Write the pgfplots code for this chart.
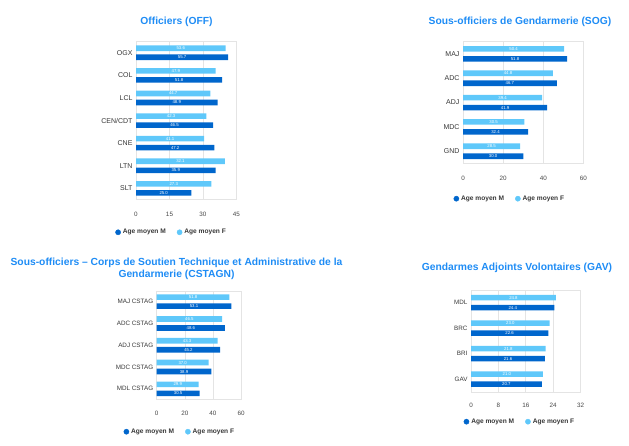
\documentclass[border=0pt]{standalone}
\usepackage{pgfplots}
\pgfplotsset{compat=1.18}
\usepackage{fontspec}
\setmainfont{Liberation Sans}
\definecolor{cM}{RGB}{0,102,204}
\definecolor{cF}{RGB}{95,200,250}
\definecolor{cT}{RGB}{30,140,245}
\definecolor{cG}{RGB}{228,228,228}
\definecolor{cL}{RGB}{55,55,55}
\definecolor{cX}{RGB}{70,70,70}

\pgfplotsset{
  hb/.style={
    scale only axis, xbar, xmin=0,
    /pgf/number format/assume math mode=true,
    axis line style={cG, line width=0.6pt},
    xmajorgrids, grid style={cG, line width=0.6pt},
    major tick length=0pt,
    bar width=5.6pt,
    point meta=explicit symbolic,
    nodes near coords,
    visualization depends on={value \thisrow{x} \as \bx},
    every node near coord/.append style={font=\fontsize{4.3}{5}\selectfont, color=white, anchor=center, inner sep=0pt},
    yticklabel style={font=\fontsize{7}{8}\selectfont, color=cL},
    xticklabel style={font=\fontsize{6.3}{7}\selectfont, color=cX, yshift=-8pt},
    legend columns=2,
    legend style={draw=none, fill=none, font=\bfseries\fontsize{6.6}{8}\selectfont, text=cL,
      inner xsep=0pt, inner ysep=0pt, anchor=west,
      /tikz/every even column/.append style={column sep=9pt}},
  },
  lab/.style={every node near coord/.append style={xshift={-0.5*\bx*#1}}},
  legM/.style={legend image code/.code={\fill[cM] (0pt,0pt) circle (2.6pt);}},
  legF/.style={legend image code/.code={\fill[cF] (0pt,0pt) circle (2.6pt);}},
}

\begin{document}
\begin{tikzpicture}
\path[use as bounding box] (0,0) rectangle (629pt,445pt);

% ---------- Officiers (OFF)
\node[font=\bfseries\fontsize{10.3}{12}\selectfont, text=cT] at (176.5pt,423.3pt) {Officiers (OFF)};
\begin{axis}[hb, at={(136pt,245.3pt)}, anchor=south west,
  width=100.5pt, height=158.2pt, xmax=45, ymin=-0.5, ymax=6.5,
  xtick={0,15,30,45}, ytick={0,...,6},
  xticklabel style={yshift=-1pt},
  yticklabels={SLT,LTN,CNE,CEN/CDT,LCL,COL,OGX},
  legend style={at={(-0.208,-0.206)}}]
\addplot[forget plot, fill=cF, draw=none, bar shift=4.5pt, lab=2.2333pt] table[x=x, y=y, meta=lab] {
y x lab
6 40.1 53.6
5 35.7 47.9
4 33.3 44.7
3 31.5 42.3
2 30.5 41.1
1 39.8 32.1
0 33.8 27.3
};
\addplot[forget plot, fill=cM, draw=none, bar shift=-4.5pt, lab=2.2333pt] table[x=x, y=y, meta=lab] {
y x lab
6 41.3 55.7
5 38.6 51.8
4 36.5 48.9
3 34.5 46.5
2 35.1 47.2
1 35.6 35.9
0 24.8 25.0
};
\addlegendimage{legM}\addlegendentry{Age moyen M}
\addlegendimage{legF}\addlegendentry{Age moyen F}
\end{axis}

% ---------- SOG
\node[font=\bfseries\fontsize{10.3}{12}\selectfont, text=cT] at (520pt,423.3pt) {Sous-officiers de Gendarmerie (SOG)};
\begin{axis}[hb, at={(463pt,281.6pt)}, anchor=south west,
  width=120.5pt, height=121.7pt, xmax=60, ymin=-0.5, ymax=4.5,
  xtick={0,20,40,60}, ytick={0,...,4},
  xticklabel style={yshift=-1pt},
  yticklabels={GND,MDC,ADJ,ADC,MAJ},
  legend style={at={(-0.08,-0.29)}}]
\addplot[forget plot, fill=cF, draw=none, bar shift=5pt, lab=2.0083pt] table[x=x, y=y, meta=lab] {
y x lab
4 50.4 50.4
3 44.8 44.8
2 39.4 39.4
1 30.5 30.5
0 28.5 28.5
};
\addplot[forget plot, fill=cM, draw=none, bar shift=-5pt, lab=2.0083pt] table[x=x, y=y, meta=lab] {
y x lab
4 51.8 51.8
3 46.7 46.7
2 41.9 41.9
1 32.4 32.4
0 30.0 30.0
};
\addlegendimage{legM}\addlegendentry{Age moyen M}
\addlegendimage{legF}\addlegendentry{Age moyen F}
\end{axis}

% ---------- CSTAGN
\node[font=\bfseries\fontsize{10.3}{12.3}\selectfont, text=cT, align=center, inner sep=0pt] at (176.5pt,176.1pt)
  {Sous-officiers – Corps de Soutien Technique et Administrative de la\\Gendarmerie (CSTAGN)};
\begin{axis}[hb, at={(156.7pt,45.3pt)}, anchor=south west,
  width=84.3pt, height=108.9pt, xmax=60, ymin=-0.5, ymax=4.5,
  xtick={0,20,40,60}, ytick={0,...,4},
  yticklabel style={font=\fontsize{6.3}{7}\selectfont},
  yticklabels={MDL CSTAG,MDC CSTAG,ADJ CSTAG,ADC CSTAG,MAJ CSTAG},
  legend style={at={(-0.395,-0.294)}}]
\addplot[forget plot, fill=cF, draw=none, bar shift=4.5pt, lab=1.405pt] table[x=x, y=y, meta=lab] {
y x lab
4 51.8 51.8
3 46.5 46.5
2 43.3 43.3
1 37.0 37.0
0 29.9 29.9
};
\addplot[forget plot, fill=cM, draw=none, bar shift=-4.5pt, lab=1.405pt] table[x=x, y=y, meta=lab] {
y x lab
4 53.1 53.1
3 48.6 48.6
2 45.2 45.2
1 38.9 38.9
0 30.5 30.5
};
\addlegendimage{legM}\addlegendentry{Age moyen M}
\addlegendimage{legF}\addlegendentry{Age moyen F}
\end{axis}

% ---------- GAV
\node[font=\bfseries\fontsize{10.3}{12}\selectfont, text=cT] at (517pt,176.7pt) {Gendarmes Adjoints Volontaires (GAV)};
\begin{axis}[hb, at={(471pt,53.1pt)}, anchor=south west,
  width=109.5pt, height=102pt, xmax=32, ymin=-0.5, ymax=3.5,
  xtick={0,8,16,24,32}, ytick={0,...,3},
  yticklabel style={font=\fontsize{6.3}{7}\selectfont},
  yticklabels={GAV,BRI,BRC,MDL},
  legend style={at={(-0.069,-0.292)}}]
\addplot[forget plot, fill=cF, draw=none, bar shift=5pt, lab=3.4219pt] table[x=x, y=y, meta=lab] {
y x lab
3 24.8 24.8
2 23.0 23.0
1 21.8 21.8
0 21.0 21.0
};
\addplot[forget plot, fill=cM, draw=none, bar shift=-5pt, lab=3.4219pt] table[x=x, y=y, meta=lab] {
y x lab
3 24.4 24.4
2 22.6 22.6
1 21.6 21.6
0 20.7 20.7
};
\addlegendimage{legM}\addlegendentry{Age moyen M}
\addlegendimage{legF}\addlegendentry{Age moyen F}
\end{axis}
\end{tikzpicture}
\end{document}
